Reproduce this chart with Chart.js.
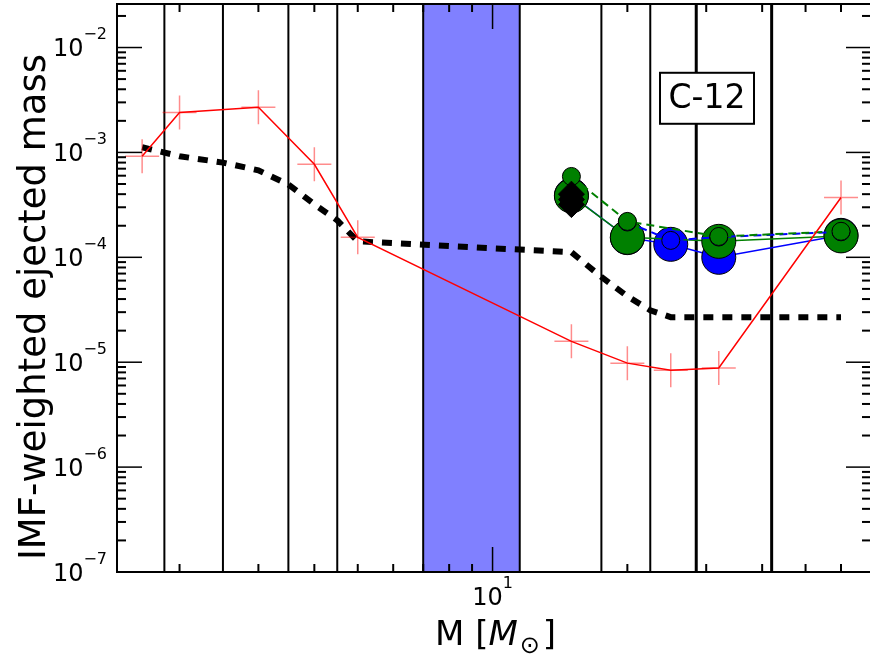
<!DOCTYPE html>
<html>
<head>
<meta charset="utf-8">
<script src="https://cdn.jsdelivr.net/npm/chart.js@4.4.0/dist/chart.umd.min.js"></script>
<style>
  html, body { margin: 0; background: #fff; overflow: hidden }
  #wrap { width: 870px; height: 661px; overflow: hidden }
</style>
</head>
<body>
<div id="wrap"><canvas id="yieldChart" width="880" height="661"></canvas></div>
<script>
// stellar masses of the model grid
const gridMass = [1.65, 2, 3, 4, 5, 15, 20, 25, 32, 60]
const gridYield = [9.2e-4, 2.4e-3, 2.69e-3, 7.7e-4, 1.55e-4, 1.58e-5, 9.8e-6, 8.4e-6, 8.8e-6, 3.72e-4]

// IMF-weighted reference curve
const curveMass = [1.65, 2, 2.5, 3, 3.5, 4, 4.5, 5, 10, 15, 17.5, 20, 22.5, 25, 32, 60]
const curveYield = [1.12e-3, 9.2e-4, 8.0e-4, 6.75e-4, 4.95e-4, 3.2e-4, 2.25e-4, 1.42e-4, 1.22e-4, 1.12e-4, 6.5e-5, 4.25e-5, 3.13e-5, 2.69e-5, 2.69e-5, 2.69e-5]

// massive star sets
const blueMass = [15, 20, 25, 32, 60]
const blueYield = [3.9e-4, 1.54e-4, 1.33e-4, 1.0e-4, 1.62e-4]
const greenMass = [15, 20, 32, 60]
const greenYield = [3.85e-4, 1.55e-4, 1.42e-4, 1.6e-4]
const blueAltMass = [20, 25, 32, 60]
const blueAltYield = [2.17e-4, 1.45e-4, 1.56e-4, 1.75e-4]
const greenAltMass = [15, 20, 32, 60]
const greenAltYield = [5.9e-4, 2.2e-4, 1.58e-4, 1.77e-4]
const extraMass = [15, 15, 15]
const extraYield = [4.0e-4, 3.56e-4, 3.18e-4]

// bin boundaries and the shaded mass gap
const binEdges = [1.85, 2.5, 3.5, 4.5, 17.5, 22.5, 28.5, 42]
const gapRange = [7, 11.5]

const yDecades = [-7, -6, -5, -4, -3, -2]
const xDecades = [1]
const isotope = "C-12"

const pts = (xs, ys) => xs.map((m, i) => ({ x: m, y: ys[i] }))
const FONT = "DejaVu Sans"

const frame = {
  id: "frame",
  beforeDatasetsDraw(chart) {
    const { ctx, chartArea: a, scales: { x } } = chart
    ctx.save()
    const g0 = x.getPixelForValue(gapRange[0])
    const g1 = x.getPixelForValue(gapRange[1])
    ctx.fillStyle = "#8080ff"
    ctx.fillRect(g0, a.top, g1 - g0, a.bottom - a.top)
    ctx.strokeStyle = "#000"
    const edges = binEdges.concat(gapRange)
    edges.forEach(m => {
      const px = x.getPixelForValue(m)
      ctx.lineWidth = m > 25 ? 3 : 2
      ctx.beginPath()
      ctx.moveTo(px, a.top)
      ctx.lineTo(px, a.bottom)
      ctx.stroke()
    })
    ctx.restore()
  },
  afterDatasetsDraw(chart) {
    const { ctx, chartArea: a } = chart
    // label box
    const cx = a.left + 0.7825 * (a.right - a.left)
    const cy = a.top + 0.166 * (a.bottom - a.top)
    const w = 94, h = 51
    ctx.save()
    ctx.fillStyle = "#fff"
    ctx.fillRect(cx - w / 2, cy - h / 2, w, h)
    ctx.strokeStyle = "#000"
    ctx.lineWidth = 2
    ctx.strokeRect(cx - w / 2, cy - h / 2, w, h)
    ctx.fillStyle = "#000"
    ctx.font = `33px "${FONT}"`
    ctx.textAlign = "center"
    ctx.textBaseline = "middle"
    ctx.fillText(isotope, cx, cy + 1)
    ctx.restore()
  },
  afterDraw(chart) {
    const { ctx, chartArea: a, scales: { x, y } } = chart
    ctx.save()
    ctx.strokeStyle = "#000"
    const seg = (x0, y0, x1, y1) => {
      ctx.beginPath(); ctx.moveTo(x0, y0); ctx.lineTo(x1, y1); ctx.stroke()
    }
    // y ticks, both sides
    yDecades.forEach(e => {
      for (let k = 1; k <= 9; k++) {
        const v = k * Math.pow(10, e)
        if (v > y.max) break
        const py = y.getPixelForValue(v)
        const len = k === 1 ? 25 : 9
        ctx.lineWidth = k === 1 ? 1.5 : 2
        seg(a.left, py, a.left + len, py)
        seg(a.right - len, py, a.right, py)
      }
    })
    // x ticks, top and bottom
    for (let e = 0; e <= 1; e++) {
      for (let k = 1; k <= 9; k++) {
        const v = k * Math.pow(10, e)
        if (v < x.min || v > x.max) continue
        const px = x.getPixelForValue(v)
        const len = k === 1 ? 25 : 8
        ctx.lineWidth = k === 1 ? 1.5 : 2
        seg(px, a.bottom, px, a.bottom - len)
        seg(px, a.top, px, a.top + len)
      }
    }
    // spines
    ctx.lineWidth = 2
    ctx.strokeRect(a.left, a.top, a.right - a.left, a.bottom - a.top)

    ctx.fillStyle = "#000"
    ctx.textBaseline = "alphabetic"
    const big = `24px "${FONT}"`, small = `16px "${FONT}"`
    // y tick labels 10^e
    yDecades.forEach(e => {
      const py = y.getPixelForValue(Math.pow(10, e))
      const sup = "\u2212" + Math.abs(e)
      ctx.font = small
      const w2 = ctx.measureText(sup).width
      const right = a.left - 10
      ctx.textAlign = "left"
      ctx.fillText(sup, right - w2, py - 8.5)
      ctx.font = big
      ctx.textAlign = "right"
      ctx.fillText("10", right - w2, py + 8.5)
    })
    // x tick labels
    xDecades.forEach(e => {
      const px = x.getPixelForValue(Math.pow(10, e))
      const sup = String(e)
      ctx.font = big
      const w1 = ctx.measureText("10").width
      ctx.font = small
      const w2 = ctx.measureText(sup).width
      const x0 = px - (w1 + w2) / 2
      ctx.textAlign = "left"
      ctx.font = big
      ctx.fillText("10", x0, a.bottom + 33)
      ctx.font = small
      ctx.fillText(sup, x0 + w1, a.bottom + 16)
    })

    // axis titles
    ctx.font = `37px "${FONT}"`
    ctx.save()
    ctx.translate(45, (a.top + a.bottom) / 2 + 19)
    ctx.rotate(-Math.PI / 2)
    ctx.textAlign = "center"
    ctx.fillText("IMF-weighted ejected mass", 0, 0)
    ctx.restore()

    const base = a.bottom + 73
    let tx = 435
    ctx.textAlign = "left"
    ctx.font = `34px "${FONT}"`
    ctx.fillText("M [", tx, base)
    tx += ctx.measureText("M [").width
    ctx.font = `italic 34px "${FONT}"`
    ctx.fillText("M", tx, base)
    tx += ctx.measureText("M").width + 2
    ctx.font = `24px "${FONT}"`
    ctx.fillText("\u2299", tx, base + 8)
    tx += ctx.measureText("\u2299").width + 3
    ctx.font = `34px "${FONT}"`
    ctx.fillText("]", tx, base)
    ctx.restore()
  }
}

const bigDot = 17, smallDot = 9

new Chart(document.getElementById("yieldChart"), {
  type: "scatter",
  data: {
    datasets: [
      {
        data: pts(curveMass, curveYield), showLine: true,
        borderColor: "#000", borderWidth: 6, borderDash: [10, 9],
        pointRadius: 0, order: 6
      },
      {
        data: pts(blueMass, blueYield), showLine: true,
        borderColor: "#0000ff", borderWidth: 1.5,
        pointRadius: bigDot, pointBackgroundColor: "#0000ff",
        pointBorderColor: "#000", pointBorderWidth: 1, order: 5
      },
      {
        data: pts(greenMass, greenYield), showLine: true,
        borderColor: "#008000", borderWidth: 1.5,
        pointRadius: bigDot, pointBackgroundColor: "#008000",
        pointBorderColor: "#000", pointBorderWidth: 1, order: 4
      },
      {
        data: pts(blueAltMass, blueAltYield), showLine: true,
        borderColor: "#0000ff", borderWidth: 2, borderDash: [8, 5],
        pointRadius: smallDot, pointBackgroundColor: "#0000ff",
        pointBorderColor: "#000", pointBorderWidth: 1, order: 3
      },
      {
        data: pts(greenAltMass, greenAltYield), showLine: true,
        borderColor: "#008000", borderWidth: 2, borderDash: [8, 5],
        pointRadius: smallDot, pointBackgroundColor: "#008000",
        pointBorderColor: "#000", pointBorderWidth: 1, order: 2
      },
      {
        data: pts(extraMass, extraYield),
        pointStyle: "rectRot", pointRadius: 13,
        pointBackgroundColor: "#000", pointBorderColor: "#000", order: 1
      },
      {
        data: pts(gridMass, gridYield), showLine: true,
        borderColor: "#ff0000", borderWidth: 1.5,
        pointStyle: "cross", pointRadius: 17,
        pointBorderColor: "rgba(255,0,0,0.45)", pointBorderWidth: 1.5, order: 0
      }
    ]
  },
  options: {
    responsive: false,
    animation: false,
    events: [],
    layout: { autoPadding: false, padding: { left: 117, top: 4, right: 9, bottom: 89 } },
    plugins: { legend: { display: false }, tooltip: { enabled: false } },
    scales: {
      x: { type: "logarithmic", min: 1.45, max: 70, display: false },
      y: { type: "logarithmic", min: 1e-7, max: 2.6e-2, display: false }
    }
  },
  plugins: [frame]
})
</script>
</body>
</html>
